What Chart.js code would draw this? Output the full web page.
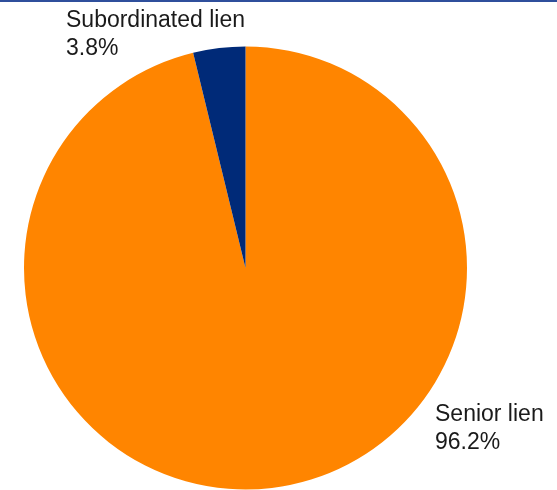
<!DOCTYPE html>
<html>
<head>
<meta charset="utf-8">
<script src="https://cdn.jsdelivr.net/npm/chart.js@4"></script>
<style>
  html, body { margin: 0; padding: 0; background: #fff; }
  #wrap { position: relative; width: 557px; height: 490px; }
  #topline { position: absolute; left: 0; top: 0; width: 557px; height: 2px; background: #2f4f9c; }
</style>
</head>
<body>
<div id="wrap">
  <canvas id="myChart" width="557" height="490"></canvas>
  <div id="topline"></div>
</div>
<script>
// pie data
const labels = ['Senior lien', 'Subordinated lien'];
const shares = [96.2, 3.8];
const colors = ['#ff8500', '#002a78'];

// label text placement (baseline of first line)
const labelPos = [
  { x: 435, y: 421 },  // Senior lien
  { x: 66, y: 27 }     // Subordinated lien
];

const sliceLabels = {
  id: 'sliceLabels',
  afterDraw(chart) {
    const ctx = chart.ctx;
    const data = chart.data.datasets[0].data;
    ctx.save();
    ctx.fillStyle = '#1a1a1a';
    ctx.font = '23px "Liberation Sans", Arial, sans-serif';
    ctx.textAlign = 'left';
    ctx.textBaseline = 'alphabetic';
    chart.data.labels.forEach((lab, i) => {
      const p = labelPos[i];
      ctx.fillText(lab, p.x, p.y);
      ctx.fillText(data[i].toFixed(1) + '%', p.x, p.y + 27.5);
    });
    ctx.restore();
  }
};

const ctx = document.getElementById('myChart').getContext('2d');
window.myChart = new Chart(ctx, {
  type: 'pie',
  data: {
    labels: labels,
    datasets: [{
      data: shares,
      backgroundColor: colors,
      borderWidth: 0
    }]
  },
  options: {
    responsive: false,
    animation: false,
    layout: { padding: { left: 24, right: 90, top: 46.5, bottom: 0.5 } },
    plugins: {
      legend: { display: false },
      tooltip: { enabled: false }
    }
  },
  plugins: [sliceLabels]
});
</script>
</body>
</html>
